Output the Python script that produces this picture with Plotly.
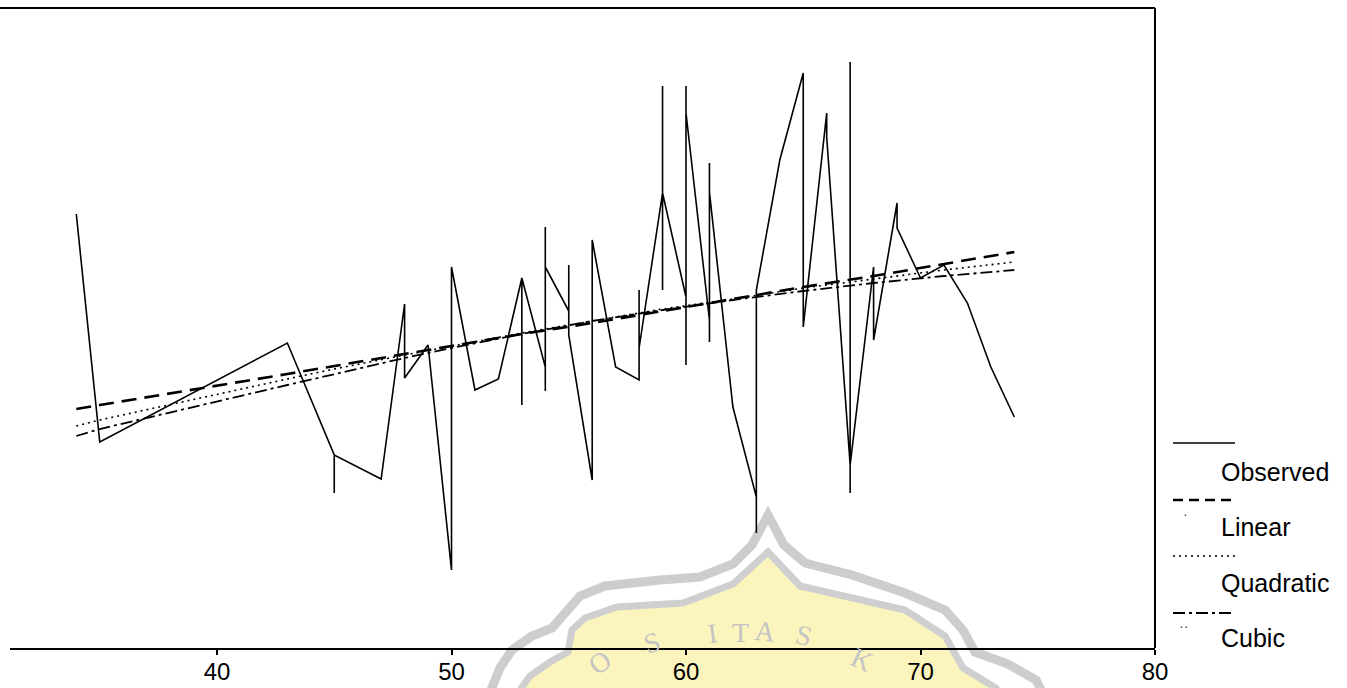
import plotly.graph_objects as go

# ---------------- data ----------------
# Observed series: x values in drawing order (ties kept, SPSS-style polyline)
obs_x = [34, 35, 43, 45, 45, 45, 47, 48, 48, 49, 50, 50, 51, 52, 53, 53, 53,
         54, 54, 54, 54, 55, 55, 55, 56, 56, 57, 58, 58, 58, 59, 59, 59, 59,
         60, 60, 60, 60, 61, 61, 61, 61, 62, 63, 63, 63, 64, 65, 65, 66, 66,
         67, 67, 67, 67, 68, 68, 69, 69, 70, 71, 72, 73, 74]
obs_y = [43.4, 20.6, 30.5, 19.3, 15.5, 19.3, 16.9, 34.4, 27.0, 30.3, 7.8, 38.1, 25.8, 26.9, 37.0, 24.3, 37.0,
         28.1, 25.7, 42.1, 38.1, 33.7, 38.3, 31.3, 16.8, 40.8, 28.1, 26.8, 35.8, 30.0, 45.5, 56.2, 35.8, 45.5,
         35.1, 56.2, 28.3, 53.5, 32.8, 48.5, 30.6, 45.6, 24.1, 15.1, 11.5, 35.8, 48.8, 57.5, 32.1, 53.5, 51.1,
         18.3, 58.6, 15.5, 18.3, 38.1, 30.8, 44.5, 42.0, 37.0, 38.3, 34.5, 28.1, 23.1]

fit_x = [34, 35, 43, 45, 48, 50, 53, 56, 59, 62, 65, 68, 71, 74]
linear_y = [23.9, 24.3, 27.4, 28.2, 29.4, 30.2, 31.4, 32.5, 33.7, 34.9, 36.1, 37.2, 38.4, 39.6]
quadratic_y = [22.2, 22.8, 26.9, 27.9, 29.3, 30.2, 31.5, 32.7, 33.9, 34.9, 36.0, 36.9, 37.8, 38.6]
cubic_y = [21.2, 21.9, 26.3, 27.4, 29.0, 30.0, 31.4, 32.7, 33.8, 34.8, 35.7, 36.5, 37.2, 37.8]

x_ticks = [40, 50, 60, 70, 80]
legend_labels = ["Observed", "Linear", "Quadratic", "Cubic"]

# ---------------- layout geometry ----------------
W, H = 1347, 688
L, R, T, B = 10, 1155, 8, 648          # plot area in pixels
FONT = "Liberation Sans, Arial, sans-serif"


def px(xp):
    return (xp - L) / (R - L)


def py(yp):
    return (B - yp) / (B - T)


fig = go.Figure()

fig.add_trace(go.Scatter(x=fit_x, y=linear_y, mode="lines", name="Linear",
                         line=dict(color="black", width=2.6, dash="15px,8px")))
fig.add_trace(go.Scatter(x=fit_x, y=quadratic_y, mode="lines", name="Quadratic",
                         line=dict(color="black", width=1.6, dash="2px,4px")))
fig.add_trace(go.Scatter(x=fit_x, y=cubic_y, mode="lines", name="Cubic",
                         line=dict(color="black", width=1.8, dash="12px,4px,3px,4px")))
fig.add_trace(go.Scatter(x=obs_x, y=obs_y, mode="lines", name="Observed",
                         line=dict(color="black", width=1.6)))

shapes = []
annotations = []

# ---- watermark (scanned-document logo), drawn beneath everything ----
outer = [(487, 700), (500, 668), (512, 650), (532, 636), (552, 628), (566, 612), (580, 596),
         (605, 586), (660, 580), (700, 577), (733, 564), (752, 545), (768, 515),
         (784, 545), (805, 563), (852, 575), (905, 593), (945, 610), (963, 630),
         (975, 652), (1008, 664), (1036, 680), (1046, 700)]
inner = [(513, 700), (530, 676), (550, 662), (568, 652), (572, 630), (585, 618),
         (617, 607), (683, 603), (733, 584), (768, 552), (800, 586), (905, 610),
         (945, 636), (963, 668), (996, 688), (1000, 700)]


def path_of(pts):
    s = "M {:.4f},{:.4f}".format(px(pts[0][0]), py(pts[0][1]))
    for a, b in pts[1:]:
        s += " L {:.4f},{:.4f}".format(px(a), py(b))
    return s + " Z"


shapes.append(dict(type="path", xref="paper", yref="paper", path=path_of(outer),
                   fillcolor="white", line=dict(color="#cdcdcd", width=9), layer="below"))
shapes.append(dict(type="path", xref="paper", yref="paper", path=path_of(inner),
                   fillcolor="#fbf5bd", line=dict(color="#cfcfcf", width=7), layer="below"))
for ch, xp, yp, rot in [("O", 600, 684, -35), ("S", 652, 662, -18), ("I", 712, 652, -8),
                        ("T", 740, 650, 0), ("A", 780, 650, 6), ("S", 818, 655, 14),
                        ("K", 880, 680, 25)]:
    annotations.append(dict(text=ch, x=px(xp), y=py(yp), xref="paper", yref="paper",
                            showarrow=False, textangle=rot,
                            font=dict(family="Liberation Serif, DejaVu Serif, serif",
                                      size=28, color="#c4c4c4")))

# ---- frame: top line and right line ----
shapes.append(dict(type="line", xref="paper", yref="paper", x0=px(0), x1=1, y0=1, y1=1,
                   line=dict(color="black", width=2)))
shapes.append(dict(type="line", xref="paper", yref="paper", x0=1, x1=1, y0=0, y1=1,
                   line=dict(color="black", width=2)))

# ---- custom legend (sample line above, label below-right) ----
leg_line_y = [443, 500, 556, 613]
leg_text_y = [472, 527, 583, 638]
leg_styles = [dict(dash="solid", width=1.6),
              dict(dash="10px,6px", width=2.4),
              dict(dash="2px,4px", width=1.6),
              dict(dash="12px,4px,3px,4px", width=1.8)]
for lbl, ly, ty, st in zip(legend_labels, leg_line_y, leg_text_y, leg_styles):
    shapes.append(dict(type="line", xref="paper", yref="paper",
                       x0=px(1173), x1=px(1235), y0=py(ly), y1=py(ly),
                       line=dict(color="black", width=st["width"], dash=st["dash"])))
    annotations.append(dict(text=lbl, x=px(1219), y=py(ty), xref="paper", yref="paper",
                            xanchor="left", yanchor="middle", showarrow=False,
                            font=dict(family=FONT, size=25, color="black")))
for mark, xp, yp in [("·", 1190, 524), ("··", 1190, 636)]:
    annotations.append(dict(text=mark, x=px(xp), y=py(yp), xref="paper", yref="paper",
                            showarrow=False, font=dict(family=FONT, size=14, color="#444")))

x0 = 40 - (217 - L) / ((R - 217) / 40.0)
fig.update_layout(
    width=W, height=H,
    margin=dict(l=L, r=W - R, t=T, b=H - B, autoexpand=False),
    paper_bgcolor="white", plot_bgcolor="rgba(0,0,0,0)",
    showlegend=False,
    shapes=shapes, annotations=annotations,
    xaxis=dict(range=[x0, 80], tickvals=x_ticks, ticktext=[str(v) for v in x_ticks],
               automargin=False,
               showgrid=False, zeroline=False, showline=True, linecolor="black", linewidth=2,
               ticks="outside", ticklen=5, tickwidth=2, tickcolor="black",
               ticklabelstandoff=-4,
               tickfont=dict(family=FONT, size=24, color="black")),
    yaxis=dict(range=[0, 64], visible=False, showgrid=False, zeroline=False, automargin=False),
)

fig.write_html("out.html", config={"displayModeBar": False},
               post_script="document.body.style.margin='0';document.body.style.overflow='hidden';")
